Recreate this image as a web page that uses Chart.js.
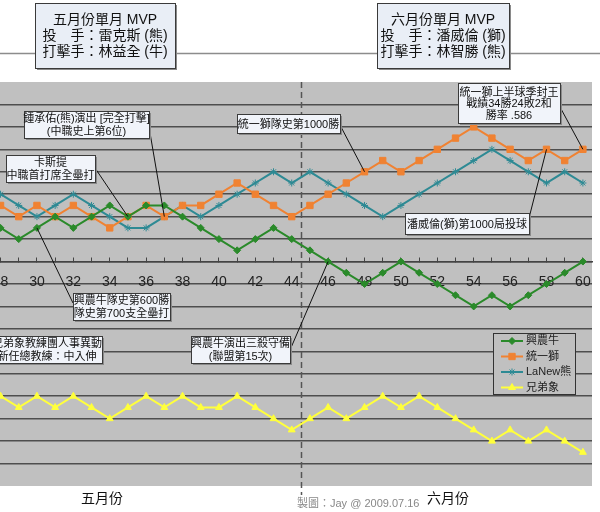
<!DOCTYPE html>
<html>
<head>
<meta charset="utf-8">
<script src="https://cdn.jsdelivr.net/npm/chart.js@4.4.1/dist/chart.umd.min.js"></script>
<style>
  html, body { margin: 0; padding: 0; background: #fff; }
</style>
</head>
<body>
<canvas id="chart" width="600" height="512"></canvas>
<script>
// games played (x) and games above .500 for each team
const games = [28, 29, 30, 31, 32, 33, 34, 35, 36, 37, 38, 39, 40, 41, 42, 43, 44,
               45, 46, 47, 48, 49, 50, 51, 52, 53, 54, 55, 56, 57, 58, 59, 60];
const teamNames = ['興農牛', '統一獅', 'LaNew熊', '兄弟象'];
const sinonBulls = [3, 2, 3, 4, 3, 4, 5, 4, 5, 5, 4, 3, 2, 1, 2, 3, 2,
                    1, 0, -1, -2, -1, 0, -1, -2, -3, -4, -3, -4, -3, -2, -1, 0];
const uniLions = [5, 4, 5, 4, 5, 4, 3, 4, 5, 4, 5, 5, 6, 7, 6, 5, 4,
                  5, 6, 7, 8, 9, 8, 9, 10, 11, 12, 11, 10, 9, 10, 9, 10];
const lanewBears = [6, 5, 4, 5, 6, 5, 4, 3, 3, 4, 5, 4, 5, 6, 7, 8, 7,
                    8, 7, 6, 5, 4, 5, 6, 7, 8, 9, 10, 9, 8, 7, 8, 7];
const brotherElephants = [-12, -13, -12, -13, -12, -13, -14, -13, -12, -13, -12, -13, -13, -12, -13, -14, -15,
                          -14, -13, -14, -13, -12, -13, -12, -13, -14, -15, -16, -15, -16, -15, -16, -17];
const monthSplit = 44.5;   // May / June boundary
const monthLabels = ['五月份', '六月份'];
const mvpTexts = [
  ['五月份單月 MVP', '投　手：雷克斯 (熊)', '打擊手：林益全 (牛)'],
  ['六月份單月 MVP', '投　手：潘威倫 (獅)', '打擊手：林智勝 (熊)']
];
// callouts: text lines and the point they refer to (series index, game)
const noteTexts = [
  ['鍾承佑(熊)演出 [完全打擊]', '(中職史上第6位)'],
  ['卡斯提', '中職首打席全壘打'],
  ['統一獅隊史第1000勝'],
  ['統一獅上半球季封王', '戰績34勝24敗2和', '勝率 .586'],
  ['潘威倫(獅)第1000局投球'],
  ['興農牛隊史第600勝', '隊史第700支全壘打'],
  ['兄弟象教練團人事異動', '新任總教練：中入伸'],
  ['興農牛演出三殺守備', '(聯盟第15次)']
];
const noteTargets = [[2, 37], [0, 35], [1, 48], [1, 60], [1, 58], [0, 30], null, [0, 46]];
const credit = '製圖：Jay @ 2009.07.16';

// layout of the boxes (pixels)
const noteBoxes = [
  { x: 24, y: 111, w: 125, h: 27, ax: 149, ay: 127 },
  { x: 6, y: 155, w: 89, h: 27, ax: 95, ay: 168 },
  { x: 237, y: 114, w: 103, h: 19, ax: 340, ay: 125 },
  { x: 458, y: 83, w: 102, h: 40, ax: 560, ay: 107 },
  { x: 405, y: 213, w: 124, h: 21, ax: 529, ay: 218 },
  { x: 73, y: 293, w: 97, h: 27, ax: 73, ay: 303 },
  { x: -8, y: 336, w: 110, h: 27 },
  { x: 191, y: 336, w: 99, h: 27, ax: 290, ay: 350 }
];
const mvpBoxes = [
  { x: 35, y: 3, w: 140, h: 65 },
  { x: 377, y: 3, w: 132, h: 65 }
];
const legendBox = { x: 493, y: 333, w: 82, h: 61 };
const FONT = '"Liberation Sans", "Noto Sans CJK TC", sans-serif';

const seriesValues = [sinonBulls, uniLions, lanewBears, brotherElephants];
const seriesStyle = [
  { color: '#2a8a2a', point: 'rectRot', radius: 3.5 },
  { color: '#f08232', point: 'rect', radius: 4.5 },
  { color: '#2e8a94', point: 'star', radius: 3.5 },
  { color: '#ffff3c', point: 'triangle', radius: 4 }
];

function drawBox(ctx, b, lines, size, gap, fill) {
  ctx.fillStyle = '#8a8a8a';
  ctx.fillRect(b.x + 2, b.y + 2, b.w, b.h);
  ctx.fillStyle = fill;
  ctx.fillRect(b.x, b.y, b.w, b.h);
  ctx.strokeStyle = '#3a3a3a';
  ctx.lineWidth = 1;
  ctx.strokeRect(b.x + 0.5, b.y + 0.5, b.w, b.h);
  ctx.fillStyle = '#111';
  ctx.font = size + 'px ' + FONT;
  ctx.textAlign = 'center';
  ctx.textBaseline = 'middle';
  const cy = b.y + b.h / 2 + 1;
  lines.forEach((t, i) => {
    ctx.fillText(t, b.x + b.w / 2, cy + (i - (lines.length - 1) / 2) * gap);
  });
}

const backgroundPlugin = {
  id: 'plotBackground',
  beforeDraw(chart) {
    const { ctx, chartArea: a } = chart;
    ctx.save();
    ctx.fillStyle = '#fff';
    ctx.fillRect(0, 0, chart.width, chart.height);
    ctx.fillStyle = '#c0c0c0';
    ctx.fillRect(a.left, a.top, a.right - a.left, a.bottom - a.top);
    ctx.restore();
  },
  beforeDatasetsDraw(chart) {
    // dashed month divider
    const { ctx, chartArea: a } = chart;
    const x = Math.round(chart.scales.x.getPixelForValue(monthSplit)) + 0.5;
    ctx.save();
    ctx.strokeStyle = '#555';
    ctx.lineWidth = 1.5;
    ctx.setLineDash([6, 4]);
    ctx.beginPath();
    ctx.moveTo(x, a.top);
    ctx.lineTo(x, a.bottom + 9);
    ctx.stroke();
    ctx.restore();
  }
};

const notesPlugin = {
  id: 'notes',
  afterDraw(chart) {
    const ctx = chart.ctx;
    const xs = chart.scales.x, ys = chart.scales.y;
    ctx.save();

    // top rule with the monthly MVP boxes
    ctx.strokeStyle = '#8c8c8c';
    ctx.lineWidth = 1.5;
    ctx.beginPath();
    ctx.moveTo(0, 53.5);
    ctx.lineTo(chart.width, 53.5);
    ctx.stroke();
    mvpTexts.forEach((lines, i) => drawBox(ctx, mvpBoxes[i], lines, 14, 16, '#e9eef6'));

    // leader lines, then callout boxes
    ctx.strokeStyle = '#111';
    ctx.lineWidth = 1;
    noteTexts.forEach((lines, i) => {
      const t = noteTargets[i], b = noteBoxes[i];
      if (!t) return;
      const px = xs.getPixelForValue(t[1]);
      const py = ys.getPixelForValue(seriesValues[t[0]][games.indexOf(t[1])]);
      ctx.beginPath();
      ctx.moveTo(b.ax, b.ay);
      ctx.lineTo(px, py);
      ctx.stroke();
    });
    noteTexts.forEach((lines, i) => {
      drawBox(ctx, noteBoxes[i], lines, 11, lines.length > 2 ? 11.5 : 12.5, '#f1f4fa');
    });

    // legend
    const L = legendBox;
    ctx.fillStyle = '#c0c0c0';
    ctx.fillRect(L.x, L.y, L.w, L.h);
    ctx.strokeStyle = '#333';
    ctx.lineWidth = 1;
    ctx.strokeRect(L.x + 0.5, L.y + 0.5, L.w, L.h);
    chart.data.datasets.forEach((ds, i) => {
      const y = L.y + 8 + i * 15.5;
      ctx.strokeStyle = ds.borderColor;
      ctx.lineWidth = 2;
      ctx.beginPath();
      ctx.moveTo(L.x + 8, y);
      ctx.lineTo(L.x + 30, y);
      ctx.stroke();
      ctx.fillStyle = ds.pointBackgroundColor;
      ctx.strokeStyle = ds.pointBorderColor;
      ctx.lineWidth = 1;
      Chart.helpers.drawPoint(ctx, { pointStyle: ds.pointStyle, radius: ds.pointRadius, borderWidth: 1, rotation: 0 }, L.x + 19, y);
      ctx.fillStyle = '#222';
      ctx.font = '11px ' + FONT;
      ctx.textAlign = 'left';
      ctx.textBaseline = 'middle';
      ctx.fillText(ds.label, L.x + 33, y);
    });

    // month names and credit under the plot
    ctx.fillStyle = '#111';
    ctx.font = '14px ' + FONT;
    ctx.textAlign = 'center';
    ctx.fillText(monthLabels[0], 102, 499);
    ctx.fillText(monthLabels[1], 448, 499);
    ctx.fillStyle = '#888';
    ctx.font = '11px ' + FONT;
    ctx.textAlign = 'left';
    ctx.fillText(credit, 297, 504);
    ctx.restore();
  }
};

const datasets = teamNames.map((name, i) => ({
  label: name,
  data: games.map((g, j) => ({ x: g, y: seriesValues[i][j] })),
  borderColor: seriesStyle[i].color,
  backgroundColor: seriesStyle[i].color,
  pointBackgroundColor: seriesStyle[i].color,
  pointBorderColor: seriesStyle[i].color,
  pointStyle: seriesStyle[i].point,
  pointRadius: seriesStyle[i].radius,
  pointBorderWidth: 1,
  borderWidth: 2,
  tension: 0
}));

new Chart(document.getElementById('chart'), {
  type: 'line',
  data: { datasets: datasets },
  options: {
    responsive: false,
    animation: false,
    layout: { autoPadding: false, padding: { left: 0, right: 8, top: 82, bottom: 26 } },
    plugins: { legend: { display: false }, tooltip: { enabled: false } },
    scales: {
      x: {
        type: 'linear',
        position: { y: 0 },
        min: 27.97,
        max: 60.5,
        afterFit: (s) => { s.paddingLeft = 0; s.paddingRight = 0; },
        ticks: {
          stepSize: 1,
          includeBounds: false,
          autoSkip: false,
          maxRotation: 0,
          padding: 17,
          color: '#222',
          font: { family: FONT, size: 14 },
          callback: (v) => (v % 2 === 0 ? String(v) : '')
        },
        grid: { drawOnChartArea: false, drawTicks: true, tickLength: -5, color: '#444' },
        border: { display: true, color: '#444', width: 1.5 }
      },
      y: {
        min: -20,
        max: 16,
        afterFit: (s) => { s.width = 0; },
        ticks: { display: false, stepSize: 2 },
        grid: {
          drawTicks: false,
          lineWidth: 1.5,
          color: (c) => (c.tick && (c.tick.value === 16 || c.tick.value === -20)) ? 'rgba(0,0,0,0)' : '#4e4e4e'
        },
        border: { display: false }
      }
    }
  },
  plugins: [backgroundPlugin, notesPlugin]
});
</script>
</body>
</html>
